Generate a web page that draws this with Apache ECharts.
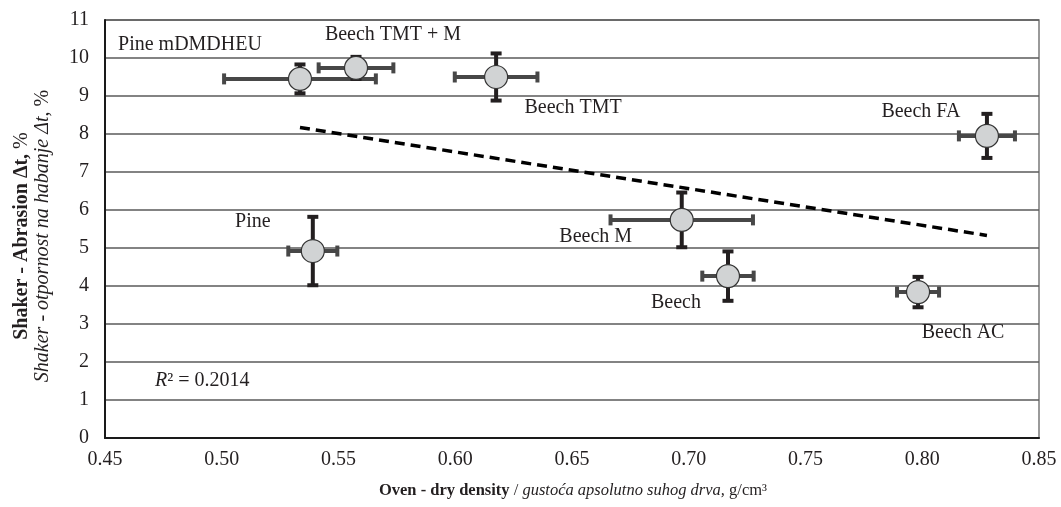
<!DOCTYPE html>
<html><head><meta charset="utf-8">
<script src="https://cdn.jsdelivr.net/npm/echarts@6/dist/echarts.min.js"></script>
<style>html,body{margin:0;padding:0;background:#fff}#c{width:1061px;height:507px}</style>
</head><body><div id="c"></div>
<script>
// ---- data ----
const names = ['Pine mDMDHEU', 'Beech TMT + M', 'Beech TMT', 'Beech FA', 'Pine', 'Beech M', 'Beech', 'Beech AC'];
const density = [0.5335, 0.5575, 0.6175, 0.8277, 0.539, 0.697, 0.7168, 0.7982];
const densityErr = [0.0325, 0.016, 0.0177, 0.012, 0.0105, 0.0305, 0.011, 0.009];
const abrasion = [9.45, 9.74, 9.5, 7.95, 4.92, 5.74, 4.26, 3.84];
const abrasionErr = [0.38, 0.29, 0.62, 0.58, 0.9, 0.72, 0.65, 0.4];
const trendDensity = [0.5335, 0.8277];
const trendAbrasion = [8.17, 5.33];
const rSquared = '0.2014';

// ---- layout (label offsets in px, not data) ----
const labelOffsets = [[-110, -34], [37, -33], [77, 31], [-66, -24], [-60, -29], [-86, 17], [-52, 27], [45, 41]];

const FONT = 'Liberation Serif';
const chart = echarts.init(document.getElementById('c'), null, {renderer: 'canvas'});

const xErrData = density.map((d, i) => [d, abrasion[i], densityErr[i]]);
const yErrData = density.map((d, i) => [d, abrasion[i], abrasionErr[i]]);
const pointData = density.map((d, i) => ({
  value: [d, abrasion[i]],
  name: names[i],
  label: {offset: labelOffsets[i]}
}));

function errRender(horizontal, color) {
  return function (params, api) {
    const x = api.value(0), y = api.value(1), e = api.value(2);
    const p1 = horizontal ? api.coord([x - e, y]) : api.coord([x, y + e]);
    const p2 = horizontal ? api.coord([x + e, y]) : api.coord([x, y - e]);
    const c = 5.5;
    const st = {stroke: color, lineWidth: 4};
    const kids = [{type: 'line', shape: {x1: p1[0], y1: p1[1], x2: p2[0], y2: p2[1]}, style: st}];
    [p1, p2].forEach(p => {
      kids.push(horizontal
        ? {type: 'line', shape: {x1: p[0], y1: p[1] - c, x2: p[0], y2: p[1] + c}, style: st}
        : {type: 'line', shape: {x1: p[0] - c, y1: p[1], x2: p[0] + c, y2: p[1]}, style: st});
    });
    return {type: 'group', children: kids};
  };
}

chart.setOption({
  animation: false,
  backgroundColor: '#fff',
  grid: {left: 105, right: 22, top: 20, bottom: 69, show: true, borderColor: '#7a7a7a', borderWidth: 1.5},
  xAxis: {
    type: 'value', min: 0.45, max: 0.85, interval: 0.05,
    axisLine: {show: true, onZero: false, lineStyle: {color: '#1a1a1a', width: 2}},
    axisTick: {show: false},
    splitLine: {show: false},
    axisLabel: {fontFamily: FONT, fontSize: 20, color: '#231f20', margin: 12,
      formatter: v => v.toFixed(2)}
  },
  yAxis: {
    type: 'value', min: 0, max: 11, interval: 1,
    axisLine: {show: true, lineStyle: {color: '#1a1a1a', width: 2}},
    axisTick: {show: false},
    splitLine: {show: true, lineStyle: {color: '#5a5a5a', width: 1.5}},
    axisLabel: {fontFamily: FONT, fontSize: 20, color: '#231f20', margin: 16}
  },
  series: [
    {type: 'line', data: trendDensity.map((d, i) => [d, trendAbrasion[i]]), symbol: 'none', z: 2,
      lineStyle: {color: '#000', width: 3.5, type: [10, 6]}},
    {type: 'custom', data: xErrData, renderItem: errRender(true, '#474747'), z: 3},
    {type: 'custom', data: yErrData, renderItem: errRender(false, '#231f20'), z: 3},
    {type: 'scatter', data: pointData, symbol: 'circle', symbolSize: 23, z: 5,
      itemStyle: {color: '#d1d3d4', borderColor: '#333', borderWidth: 1.2, opacity: 1},
      label: {show: true, position: 'inside', formatter: p => p.name,
        fontFamily: FONT, fontSize: 20, color: '#231f20'}}
  ],
  graphic: [
    {type: 'text', left: 155, top: 371, z: 10,
      style: {text: '{i|R}{n|² = ' + rSquared + '}',
        rich: {i: {fontFamily: FONT, fontSize: 20, fontStyle: 'italic', fill: '#231f20'},
               n: {fontFamily: FONT, fontSize: 20, fill: '#231f20'}}}},
    {type: 'text', x: 32, y: 236, rotation: Math.PI / 2, z: 10,
      style: {text: '{b|Shaker - Abrasion Δt,}{n| %}\n{i|Shaker - otpornost na habanje Δt}{n|, %}',
        align: 'center', verticalAlign: 'middle',
        rich: {b: {fontFamily: FONT, fontSize: 20, fontWeight: 'bold', fill: '#231f20', lineHeight: 21},
               i: {fontFamily: FONT, fontSize: 20, fontStyle: 'italic', fill: '#231f20', lineHeight: 21},
               n: {fontFamily: FONT, fontSize: 20, fill: '#231f20', lineHeight: 21}}}},
    {type: 'text', x: 573, y: 491, z: 10,
      style: {text: '{b|Oven - dry density}{n| / }{i|gustoća apsolutno suhog drva,}{n| g/cm³}',
        align: 'center', verticalAlign: 'middle',
        rich: {b: {fontFamily: FONT, fontSize: 16.5, fontWeight: 'bold', fill: '#231f20'},
               i: {fontFamily: FONT, fontSize: 16.5, fontStyle: 'italic', fill: '#231f20'},
               n: {fontFamily: FONT, fontSize: 16.5, fill: '#231f20'}}}}
  ]
});
</script></body></html>
